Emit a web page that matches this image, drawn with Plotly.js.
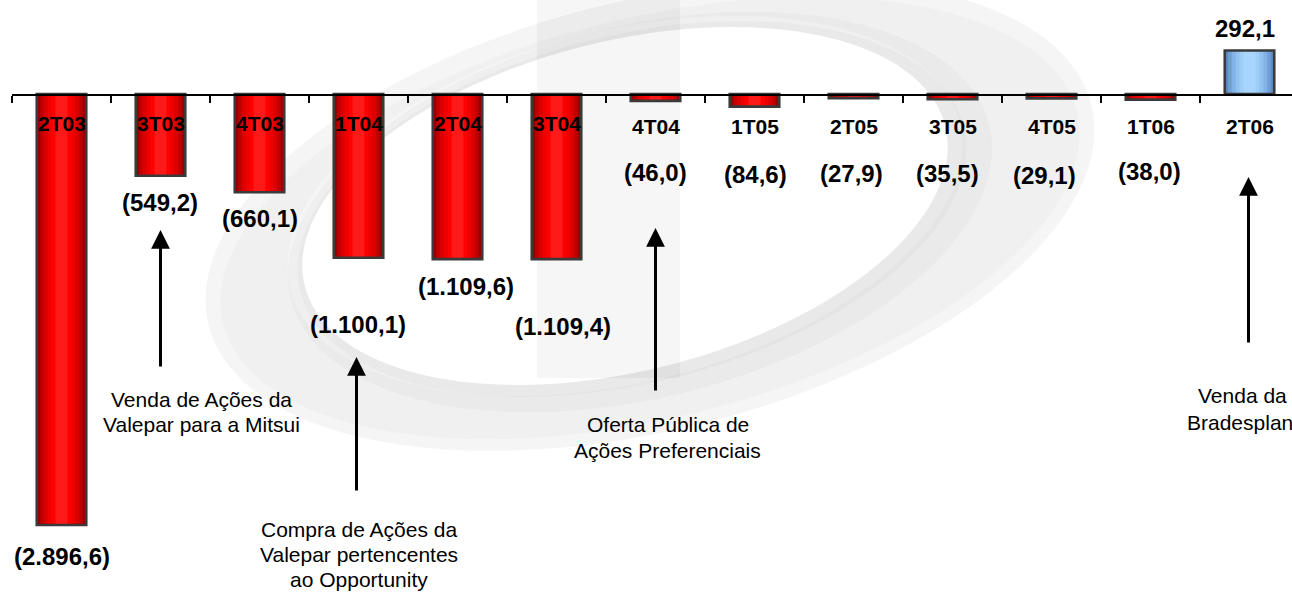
<!DOCTYPE html>
<html><head><meta charset="utf-8">
<script src="https://cdn.plot.ly/plotly-3.0.1.min.js"></script>
<style>html,body{margin:0;padding:0;background:#fff;overflow:hidden}#chart{width:1292px;height:596px}</style>
</head><body><div id="chart"></div>
<script>
// ---------- data ----------
const categories = ['2T03','3T03','4T03','1T04','2T04','3T04','4T04','1T05','2T05','3T05','4T05','1T06','2T06'];
const values = [-2896.6,-549.2,-660.1,-1100.1,-1109.6,-1109.4,-46.0,-84.6,-27.9,-35.5,-29.1,-38.0,292.1];
const noteCategories = ['3T03','1T04','4T04','2T06'];
const noteTexts = [
  ['Venda de Ações da','Valepar para a Mitsui'],
  ['Compra de Ações da','Valepar pertencentes','ao Opportunity'],
  ['Oferta Pública de','Ações Preferenciais'],
  ['Venda da','Bradesplan']
];

// ---------- layout helpers ----------
const W = 1292, H = 596, L = 12;
const axisPx = 94, pxPerUnit = 0.1488;
const yTop = axisPx / pxPerUnit, yBot = -(H - axisPx) / pxPerUnit;
const catW = 99;
const xMax = -0.5 + (W - L) / catW;
const py = p => 1 - p / H;
const px = p => (p - L) / (W - L);
const FONT = 'Arial, "Liberation Sans", sans-serif';

function fmt(v){
  const s = Math.abs(v).toFixed(1).split('.');
  const t = s[0].replace(/\B(?=(\d{3})+(?!\d))/g, '.') + ',' + s[1];
  return v < 0 ? '(' + t + ')' : t;
}

// gradient layers for bars
const widths = [0.5, 0.43, 0.36, 0.28, 0.2, 0.12];
const reds  = ['#9a0000','#bd0000','#da0000','#ef0000','#fd0000','#ff1a1a'];
const blues = ['#5a8bc2','#6f9fd6','#82b2e6','#92c2f1','#9ecdf8','#a8d6ff'];

const traces = widths.map((w, k) => ({
  type: 'bar', x: categories, y: values, width: w,
  marker: {color: values.map(v => v < 0 ? reds[k] : blues[k]), line: {width: 0}},
  hoverinfo: 'skip', showlegend: false
}));
traces.push({
  type: 'bar', x: categories, y: values, width: 0.5,
  marker: {color: 'rgba(0,0,0,0)', line: {color: '#3a3a3a', width: 2.6}},
  hovertemplate: '%{x}: %{y}<extra></extra>', showlegend: false
});

// ---------- annotations ----------
const ann = [];
categories.forEach((c, i) => {
  const inside = Math.abs(values[i]) * pxPerUnit > 40 && values[i] < 0;
  ann.push({x: c, xref: 'x', y: py(inside ? 123.5 : 126.5), yref: 'paper', yanchor: 'middle',
    text: '<b>' + c + '</b>', showarrow: false, font: {family: FONT, size: 21, color: '#000'}});
});
const labelGap = [31, 27, 26, 67, 27, 67, 72, 68, 75, 74, 77, 72, 22];
const labelDx  = [0, -1, 0, -1, 8, 6, 0, 1, -2, -5, -7, -1, -5];
values.forEach((v, i) => {
  ann.push({x: categories[i], xref: 'x', y: v, yref: 'y', yanchor: 'middle',
    yshift: v < 0 ? -labelGap[i] : labelGap[i], xshift: labelDx[i],
    text: '<b>' + fmt(v) + '</b>', showarrow: false, font: {family: FONT, size: 24, color: '#000'}});
});
const arrowTip  = [230, 357, 228, 177];
const arrowTail = [368, 492, 392, 344];
const arrowDx   = [0, -2, 0, -1];
const noteDx    = [[41, 41], [0, 0, 0], [12, 12], [-7, -10]];
const noteY     = [[399, 424], [529.5, 554.5, 579.5], [424, 450], [395, 422]];
noteCategories.forEach((c, j) => {
  ann.push({x: c, xref: 'x', y: py(arrowTip[j]), yref: 'paper', xshift: arrowDx[j],
    text: '', showarrow: true, ax: 0, ay: arrowTail[j] - arrowTip[j],
    arrowhead: 2, arrowsize: 1.25, arrowwidth: 3, arrowcolor: '#000', standoff: 0});
  noteTexts[j].forEach((t, k) => {
    ann.push({x: c, xref: 'x', y: py(noteY[j][k]), yref: 'paper', yanchor: 'middle', xshift: noteDx[j][k],
      text: t, showarrow: false, font: {family: FONT, size: 21, color: '#000'}});
  });
});

// ---------- watermark (decorative logo swoosh) ----------
function ellipse(cx, cy, a, b, rot, rev){
  const r = rot * Math.PI / 180, pts = [];
  for (let k = 0; k <= 140; k++){
    const t = (rev ? -1 : 1) * 2 * Math.PI * k / 140;
    const ex = a * Math.cos(t), ey = b * Math.sin(t);
    const X = cx + ex * Math.cos(r) - ey * Math.sin(r);
    const Y = cy + ex * Math.sin(r) + ey * Math.cos(r);
    pts.push(px(X).toFixed(4) + ',' + py(Y).toFixed(4));
  }
  return 'M' + pts.join('L') + 'Z';
}
const ROT = -14;
const ring = (o, i, col) => ({type: 'path', xref: 'paper', yref: 'paper', layer: 'below',
  path: ellipse(o[0], o[1], o[2], o[3], ROT, false) + ellipse(i[0], i[1], i[2], i[3], ROT, true),
  fillcolor: col, line: {width: 0}});
const shapes = [
  // stem of the logo
  {type: 'rect', xref: 'paper', yref: 'paper', layer: 'below',
   x0: px(537), x1: px(680), y0: py(378), y1: py(0),
   fillcolor: 'rgba(0,0,0,0.035)', line: {width: 0}},
  // main ring
  ring([650, 215, 455, 215], [625, 206, 330, 165], 'rgba(0,0,0,0.04)'),
  // soft shading bands
  ring([650, 218, 440, 200], [625, 206, 345, 176], 'rgba(0,0,0,0.02)'),
  ring([640, 212, 360, 186], [625, 206, 330, 165], 'rgba(0,0,0,0.025)'),
  ring([632, 209, 342, 174], [625, 206, 330, 165], 'rgba(0,0,0,0.025)')
];

const layout = {
  width: W, height: H,
  margin: {l: L, r: 0, t: 0, b: 0, pad: 0},
  paper_bgcolor: '#fff', plot_bgcolor: 'rgba(0,0,0,0)',
  barmode: 'overlay', showlegend: false,
  xaxis: {type: 'category', range: [-0.5, xMax], anchor: 'free', position: py(axisPx),
    showline: true, linecolor: '#000', linewidth: 1.5,
    ticks: 'outside', tickson: 'boundaries', ticklen: 7, tickwidth: 1.5, tickcolor: '#000',
    showticklabels: false, showgrid: false, zeroline: false, fixedrange: true},
  yaxis: {range: [yBot, yTop], visible: false, showgrid: false, zeroline: false, fixedrange: true},
  annotations: ann, shapes: shapes,
  font: {family: FONT}
};

Plotly.newPlot('chart', traces, layout, {displayModeBar: false, staticPlot: true});
</script>
</body></html>
